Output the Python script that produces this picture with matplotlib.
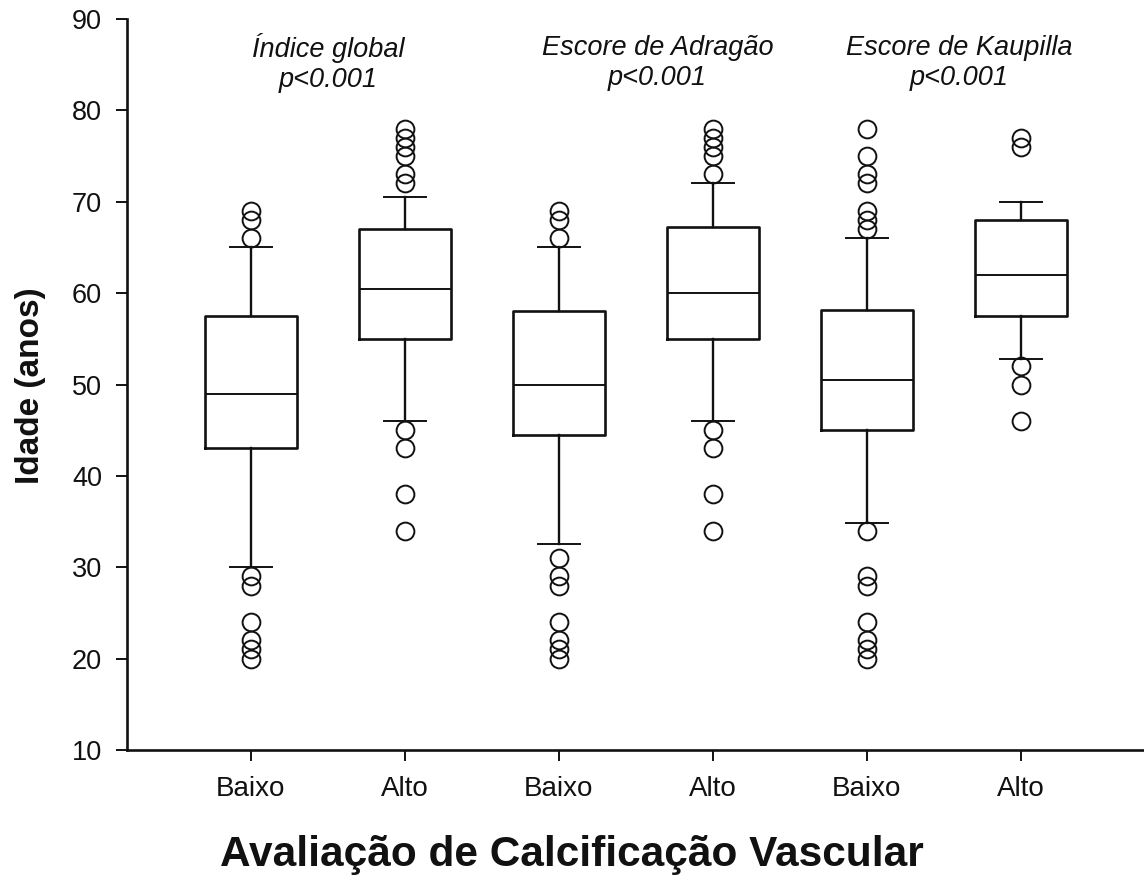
import matplotlib
matplotlib.use("Agg")
import matplotlib.pyplot as plt

plt.rcParams['font.family'] = ['Liberation Sans', 'DejaVu Sans']

# box statistics (idade, anos)
grupos = ['Baixo', 'Alto', 'Baixo', 'Alto', 'Baixo', 'Alto']
q1 = [43, 55, 44.5, 55, 45, 57.5]
mediana = [49, 60.5, 50, 60, 50.5, 62]
q3 = [57.5, 67, 58, 67.2, 58.2, 68]
whis_baixo = [30, 46, 32.5, 46, 34.8, 52.8]
whis_alto = [65, 70.5, 65, 72, 66, 70]
outliers = [
    [69, 68, 66, 29, 28, 24, 22, 21, 20],
    [78, 77, 76, 75, 73, 72, 45, 43, 38, 34],
    [69, 68, 66, 31, 29, 28, 24, 22, 21, 20],
    [78, 77, 76, 75, 73, 45, 43, 38, 34],
    [78, 75, 73, 72, 69, 68, 67, 34, 29, 28, 24, 22, 21, 20],
    [77, 76, 52, 50, 46],
]
escores = ['Índice global', 'Escore de Adragão', 'Escore de Kaupilla']
p_valores = ['p<0.001', 'p<0.001', 'p<0.001']

stats = []
for i in range(len(grupos)):
    stats.append({'label': grupos[i], 'q1': q1[i], 'med': mediana[i], 'q3': q3[i],
                  'whislo': whis_baixo[i], 'whishi': whis_alto[i], 'fliers': outliers[i]})

fig = plt.figure(figsize=(11.44, 8.88), dpi=100)
ax = fig.add_axes([0.111, 0.1554, 0.889, 0.8232])

pos = list(range(1, len(grupos) + 1))
ax.bxp(stats, positions=pos, widths=0.6, capwidths=0.27,
       boxprops=dict(color='#111111', linewidth=1.9),
       medianprops=dict(color='#111111', linewidth=1.4),
       whiskerprops=dict(color='#111111', linewidth=1.7),
       capprops=dict(color='#111111', linewidth=1.4),
       flierprops=dict(marker='o', markersize=12.8, markerfacecolor='none',
                       markeredgecolor='#111111', markeredgewidth=1.4))

ax.set_xlim(0.195, 6.8)
ax.set_ylim(10, 90)
ax.set_yticks(range(10, 91, 10))
ax.set_xticks(pos)
ax.set_xticklabels(grupos)

for s in ['top', 'right']:
    ax.spines[s].set_visible(False)
for s in ['left', 'bottom']:
    ax.spines[s].set_linewidth(1.9)
    ax.spines[s].set_color('#111111')
ax.tick_params(axis='both', direction='out', length=8, width=1.4, labelsize=19.5, colors='#111111')
ax.tick_params(axis='x', pad=11, labelsize=20)
ax.tick_params(axis='y', pad=10)

# titles above each pair of boxes
x_txt = [1.5, 3.64, 5.6]
for x, nome, p in zip(x_txt, escores, p_valores):
    ax.text(x, 85.2, nome + '\n' + p, ha='center', va='center', style='italic',
            fontsize=19.5, linespacing=1.22, color='#111111')

fig.text(0.027, 0.566, 'Idade (anos)', rotation=90, ha='center', va='center',
         fontsize=24, fontweight='bold', color='#111111')
fig.text(0.5, 0.037, 'Avaliação de Calcificação Vascular', ha='center', va='center',
         fontsize=30.5, fontweight='bold', color='#111111')

fig.savefig('out.png', dpi=100)
